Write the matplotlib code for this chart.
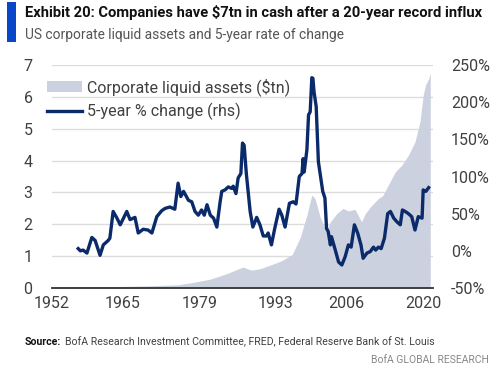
import matplotlib
matplotlib.use('Agg')
import matplotlib.pyplot as plt
from matplotlib import font_manager
from matplotlib.patches import Patch, Rectangle
from matplotlib.lines import Line2D

# Corporate liquid assets ($tn)
assetYears = [1952, 1960, 1965, 1970, 1975, 1978, 1981, 1984, 1987, 1988.5, 1990, 1992,
              1994, 1996, 1997.5, 1998.7, 1999.6, 2000.2, 2001.1, 2002.3, 2003.0, 2004.2,
              2005.3, 2006.3, 2007.5, 2008.7, 2009.4, 2010.6, 2011.8, 2012.6, 2013.6, 2014.9,
              2016.1, 2017.3, 2018.5, 2019.4, 2020.0, 2020.4, 2021.0, 2021.3]
assetValues = [0.03, 0.04, 0.05, 0.07, 0.10, 0.18, 0.28, 0.45, 0.66, 0.56, 0.60, 0.72,
               0.85, 1.05, 1.60, 2.29, 2.92, 2.80, 2.24, 1.76, 2.08, 2.34,
               2.50, 2.42, 2.47, 2.08, 2.34, 2.60, 2.81, 2.90, 3.23, 3.65,
               3.86, 4.17, 4.59, 5.21, 6.05, 6.36, 6.57, 6.75]

# 5-year % change (rhs)
changeYears = [1956.8, 1957.2, 1957.7, 1958.4, 1959.3, 1959.9, 1960.8, 1961.4, 1962.3, 1962.6,
               1963.2, 1963.9, 1964.5, 1965.1, 1965.7, 1966.3, 1967.2, 1967.8, 1968.7, 1969.6,
               1970.3, 1971.2, 1972.1, 1972.7, 1973.6, 1974.5, 1975.1, 1975.6, 1976.1, 1977.0,
               1977.6, 1978.2, 1978.8, 1979.4, 1979.9, 1980.4, 1981.0, 1981.6, 1982.2, 1982.8,
               1983.1, 1983.7, 1984.3, 1984.9, 1985.2, 1985.7, 1986.1, 1986.6, 1986.9, 1987.2,
               1987.6, 1988.0, 1988.3, 1988.8, 1989.5, 1990.1, 1990.7, 1991.3, 1991.6, 1992.2,
               1992.8, 1993.6, 1994.1, 1994.7, 1995.5, 1996.2, 1996.7, 1997.3, 1997.8, 1998.0,
               1998.2, 1998.7, 1999.0, 1999.3, 1999.6, 1999.8, 2000.0, 2000.4, 2000.8, 2001.2,
               2001.6, 2002.0, 2002.3, 2002.6, 2003.0, 2003.2, 2003.9, 2004.5, 2005.1, 2005.7,
               2006.3, 2006.8, 2007.4, 2008.0, 2008.6, 2009.0, 2009.7, 2010.3, 2010.9, 2011.3,
               2011.8, 2012.3, 2012.9, 2013.5, 2014.0, 2014.6, 2015.2, 2015.8, 2016.2, 2016.7,
               2017.3, 2017.9, 2018.5, 2019.1, 2019.8, 2020.0, 2020.5, 2021.0]
changeValues = [3, 0, 1, -3, 18, 14, -6, 8, 14, 17,
                53, 44, 35, 44, 53, 42, 45, 24, 29, 28,
                24, 46, 54, 57, 59, 56, 91, 73, 80, 68,
                66, 53, 48, 55, 48, 62, 48, 44, 32, 66,
                80, 82, 86, 84, 87, 77, 98, 104, 145, 142,
                104, 75, 53, 32, 45, 35, 20, 20, 24, 8,
                30, 56, 48, 32, 64, 66, 63, 100, 104, 124,
                106, 136, 183, 187, 233, 232, 214, 194, 120, 100,
                80, 71, 30, 26, 8, 19, 1, -15, -19, -8,
                8, 5, 35, 24, 8, -10, -3, -1, 5, 1,
                5, 3, 17, 50, 53, 44, 39, 35, 55, 53,
                50, 46, 28, 46, 44, 82, 80, 85]

xTicks = [1952, 1965, 1979, 1993, 2006, 2020]
leftTicks = [0, 1, 2, 3, 4, 5, 6, 7]
rightTicks = [-50, 0, 50, 100, 150, 200, 250]

names = {f.name for f in font_manager.fontManager.ttflist}
baseFont = 'Liberation Sans Narrow' if 'Liberation Sans Narrow' in names else 'Roboto'
plt.rcParams['font.family'] = [baseFont, 'DejaVu Sans']

areaColor = '#CBD1DE'
lineColor = '#0B2A6A'
textColor = '#404040'

fig = plt.figure(figsize=(5, 3.7), dpi=100)
ax = fig.add_axes([0.104, 0.2216, 0.762, 0.6027])
ax2 = ax.twinx()

ax.fill_between(assetYears, 0, assetValues, color=areaColor, linewidth=0, zorder=2)
ax.set_ylim(0, 7)
ax.set_xlim(1952, 2021.8)
ax.set_yticks(leftTicks)
ax.set_xticks(xTicks)
ax.grid(axis='y', color='#DCDCDC', linewidth=1, zorder=1)
ax.set_axisbelow(True)

ax2.plot(changeYears, changeValues, color=lineColor, linewidth=2.4, zorder=3)
ax2.set_ylim(-50, 250)
ax2.set_yticks(rightTicks)
ax2.set_yticklabels([f'{t}%' for t in rightTicks])

for a in (ax, ax2):
    for s in a.spines.values():
        s.set_visible(False)
    a.tick_params(length=0, labelsize=11.5, colors=textColor)
ax.tick_params(axis='y', pad=14)
ax2.tick_params(axis='y', pad=13)
ax.tick_params(axis='x', pad=6)
ax.spines['bottom'].set_visible(True)
ax.spines['bottom'].set_color('#333333')
ax.spines['bottom'].set_linewidth(1.3)
ax.spines['bottom'].set_zorder(5)

handles = [Patch(facecolor=areaColor, edgecolor='none'),
           Line2D([], [], color=lineColor, linewidth=2.4)]
ax2.legend(handles, ['Corporate liquid assets ($tn)', '5-year % change (rhs)'],
           loc='upper left', bbox_to_anchor=(-0.03, 0.97), frameon=False,
           fontsize=11.5, handlelength=2.2, handletextpad=0.3, labelspacing=0.45,
           labelcolor=textColor, borderaxespad=0)

# header
fig.patches.append(Rectangle((0.014, 0.886), 0.018, 0.108, transform=fig.transFigure,
                             facecolor='#0A47C8', edgecolor='none'))
fig.text(0.05, 0.965, 'Exhibit 20: Companies have $7tn in cash after a 20-year record influx',
         fontsize=10.6, fontweight='bold', color='#111111', va='center')
fig.text(0.05, 0.905, 'US corporate liquid assets and 5-year rate of change',
         fontsize=9.9, color='#555555', va='center')

# footer
src = fig.text(0.05, 0.075, 'Source:', fontsize=7.6, fontweight='bold', color='#111111', va='center')
fig.canvas.draw()
srcEnd = src.get_window_extent().x1 / fig.bbox.width
fig.text(srcEnd + 0.008, 0.075,
         'BofA Research Investment Committee, FRED, Federal Reserve Bank of St. Louis',
         fontsize=7.6, color=textColor, va='center')
fig.text(0.978, 0.027, 'BofA GLOBAL RESEARCH', fontsize=7.5, color='#888888',
         va='center', ha='right')

fig.savefig('out.png', dpi=100)
